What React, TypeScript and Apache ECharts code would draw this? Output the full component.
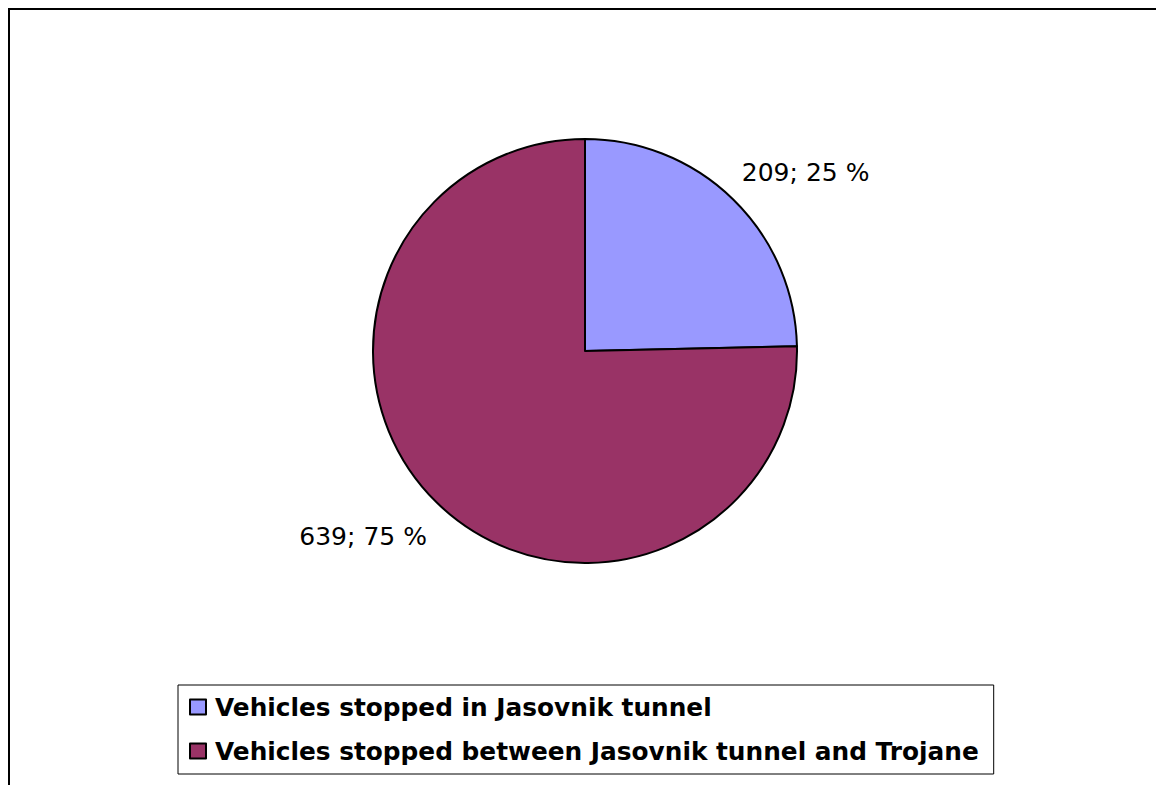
import React, { useEffect, useRef } from "react";
import * as echarts from "echarts";

const categories = [
  "Vehicles stopped in Jasovnik tunnel",
  "Vehicles stopped between Jasovnik tunnel and Trojane",
];
const values = [209, 639];
const colors = ["#9999FF", "#993366"];
const labelLineLengths = [38, 47];
const labelShiftX = [-23, 28];

export default function App() {
  const ref = useRef<HTMLDivElement>(null);
  useEffect(() => {
    if (!ref.current) return;
    const chart = echarts.init(ref.current, undefined, { renderer: "svg" });
    const total = values.reduce((a, b) => a + b, 0);
    chart.setOption({
      animation: false,
      backgroundColor: "#ffffff",
      graphic: [
        {
          type: "rect",
          z: -10,
          shape: { x: 9, y: 9, width: 1400, height: 1000 },
          style: { fill: "none", stroke: "#000", lineWidth: 2 },
        },
      ],
      legend: {
        orient: "vertical",
        left: 178,
        top: 685,
        padding: [7, 15, 8, 11],
        itemGap: 14,
        itemWidth: 16,
        itemHeight: 15,
        icon: "rect",
        borderColor: "#000",
        borderWidth: 1,
        data: categories,
        textStyle: {
          fontFamily: "DejaVu Sans",
          fontWeight: "bold",
          fontSize: 24.8,
          lineHeight: 30,
          color: "#000",
          padding: [0, 0, 0, 4],
        },
        itemStyle: { borderColor: "#000", borderWidth: 2 },
      },
      series: [
        {
          type: "pie",
          center: [585, 351],
          radius: 212,
          startAngle: 90,
          clockwise: true,
          avoidLabelOverlap: false,
          itemStyle: { borderColor: "#000", borderWidth: 2 },
          emphasis: { disabled: true },
          label: {
            show: true,
            position: "outside",
            fontFamily: "DejaVu Sans",
            fontSize: 25,
            color: "#000",
            formatter: (p: any) =>
              `${p.value}; ${Math.round((p.value / total) * 100)} %`,
          },
          labelLine: { show: false, length: 40, length2: 0 },
          labelLayout: (p: any) => ({ dx: labelShiftX[p.dataIndex] }),
          data: categories.map((name, i) => ({
            name,
            value: values[i],
            itemStyle: { color: colors[i] },
            labelLine: { show: false, length: labelLineLengths[i], length2: 0 },
          })),
        },
      ],
    });
    return () => chart.dispose();
  }, []);
  return (
    <div
      ref={ref}
      style={{
        position: "fixed",
        left: 0,
        top: 0,
        width: 1156,
        height: 785,
        background: "#fff",
      }}
    />
  );
}
